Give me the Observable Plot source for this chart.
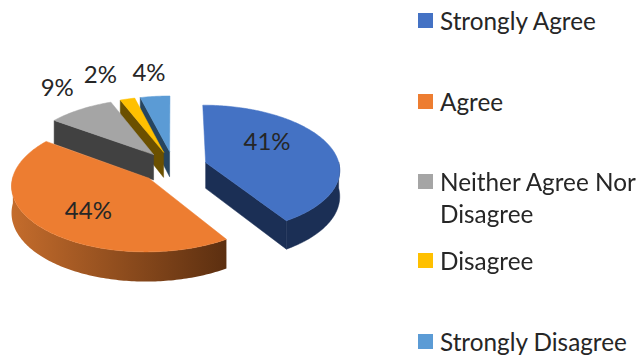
<!DOCTYPE html>
<html>
<head>
<meta charset="utf-8">
<script src="https://cdn.jsdelivr.net/npm/d3@7"></script>
<script src="https://cdn.jsdelivr.net/npm/@observablehq/plot@0.6"></script>
<style>
html,body{margin:0;padding:0;background:#fff;overflow:hidden}
#wrap{position:relative;width:642px;height:358px;font-family:Lato,"Open Sans",sans-serif;color:#262626;filter:blur(0.35px)}
#wrap svg{display:block}
.lg{position:absolute;left:418px;display:flex;align-items:flex-start;font-size:24.3px;line-height:32px;white-space:nowrap}
.lg i{display:block;width:15px;height:15px;margin-top:8px;margin-right:7px;flex:none}
</style>
</head>
<body>
<div id="wrap"></div>
<script>
const categories = ["Strongly Agree","Agree","Neither Agree Nor Disagree","Disagree","Strongly Disagree"];
const values = [41,44,9,2,4];
const topColors = ["#4472c4","#ed7d31","#a5a5a5","#ffc000","#5b9bd5"];
const wallStart = ["#1b2f55","#c46c2c","#414141","#6b5000","#264560"];
const wallEnd   = ["#1b2f55","#5c2f10","#414141","#6b5000","#264560"];

// Projection of the tilted, exploded disk
const view = {cx:173.2, cy:166.5, R:134, Ry:64, k:0.1, explode:0.25, depth:26, depthGrow:0.12};
const project = (X,Y,down=false) => {
  const f = 1/(1-view.k*Y);
  return {x:view.cx+X*view.R*f, y:view.cy+Y*view.Ry*f+(down?view.depth*(1+view.depthGrow*Y):0)};
};
const total = d3.sum(values);
let acc = 0;
const slices = values.map((v,i)=>{
  const a1 = acc/total*2*Math.PI; acc += v;
  const a2 = acc/total*2*Math.PI;
  const mid=(a1+a2)/2;
  return {i,v,a1,a2,mid,ox:view.explode*Math.sin(mid),oy:-view.explode*Math.cos(mid)};
});
const rim = (s,a,rho=1)=>[s.ox+rho*Math.sin(a),s.oy-rho*Math.cos(a)];
const polys = [];
const drawOrder = [4,3,2,0,1];
for (const idx of drawOrder){
  const s = slices[idx];
  const radialWall = a => {
    const [X,Y]=rim(s,a);
    polys.push({color:wallStart[idx],pts:[project(s.ox,s.oy),project(X,Y),project(X,Y,true),project(s.ox,s.oy,true),project(s.ox,s.oy)]});
  };
  if (Math.sin(s.a1)<-1e-6) radialWall(s.a1);
  if (Math.sin(s.a2)>1e-6) radialWall(s.a2);
  // outer wall, visible on the front half only; one shape, shaded left to right
  const n = Math.ceil((s.a2-s.a1)/(Math.PI/180));
  const angs = d3.range(n+1).map(j=>s.a1+(s.a2-s.a1)*j/n).filter(a=>Math.cos(a)<0.02);
  if (angs.length>1){
    const gradient = wallStart[idx]!==wallEnd[idx];
    const upper = angs.map(a=>project(...rim(s,a)));
    const lower = angs.map(a=>project(...rim(s,a),true)).reverse();
    const color = gradient ? `url(#wall${idx})` : wallStart[idx];
    polys.push({color,pts:[...upper,...lower,upper[0]]});
  }
  // top face
  const face=[project(s.ox,s.oy)];
  for (let j=0;j<=n;j++) face.push(project(...rim(s,s.a1+(s.a2-s.a1)*j/n)));
  face.push(project(s.ox,s.oy));
  polys.push({color:topColors[idx],pts:face});
}

// Percentage labels: rim fraction along the mid angle, then a nudge
const labelRho = [0.62,0.62,1,1,1];
const labelNudge = [[-16,-10],[5,4],[-23,-21],[-27,-24],[-6,-23]];
const labelRow = slices.map((s,i)=>{
  const p=project(...rim(s,s.mid,labelRho[i]));
  return {label:values[i]+"%",x:p.x+labelNudge[i][0],y:p.y+labelNudge[i][1]};
});

const chart = Plot.plot({
  width:642,height:358,margin:0,
  x:{domain:[0,642],range:[0,642],axis:null},
  y:{domain:[0,358],range:[0,358],axis:null},
  style:{background:"#fff"},
  marks:[
    ...polys.map(p=>Plot.line(p.pts,{x:"x",y:"y",fill:p.color,stroke:p.color.startsWith("url")?"none":p.color,strokeWidth:0.5})),
    Plot.text(labelRow,{x:"x",y:"y",text:"label",fontSize:24,fontFamily:"Lato, 'Open Sans', sans-serif",fill:"#262626"})
  ]
});
// horizontal shading for the curved side walls
const defs = d3.select(chart).insert("defs",":first-child");
values.forEach((v,i)=>{
  if (wallStart[i]===wallEnd[i]) return;
  const g = defs.append("linearGradient").attr("id","wall"+i).attr("x1",0).attr("x2",1).attr("y1",0).attr("y2",0);
  g.append("stop").attr("offset","0").attr("stop-color",wallStart[i]);
  g.append("stop").attr("offset","1").attr("stop-color",wallEnd[i]);
});
const wrap=document.getElementById("wrap");
wrap.append(chart);
// Legend
const legendTops=[5,86,166,245,326];
categories.forEach((c,i)=>{
  const d=document.createElement("div");
  d.className="lg";d.style.top=legendTops[i]+"px";
  const sw=document.createElement("i");sw.style.background=topColors[i];
  const t=document.createElement("span");
  if(i===2){t.style.whiteSpace="normal";t.style.width="205px";}
  t.textContent=c;
  d.append(sw,t);wrap.append(d);
});
</script>
</body>
</html>
